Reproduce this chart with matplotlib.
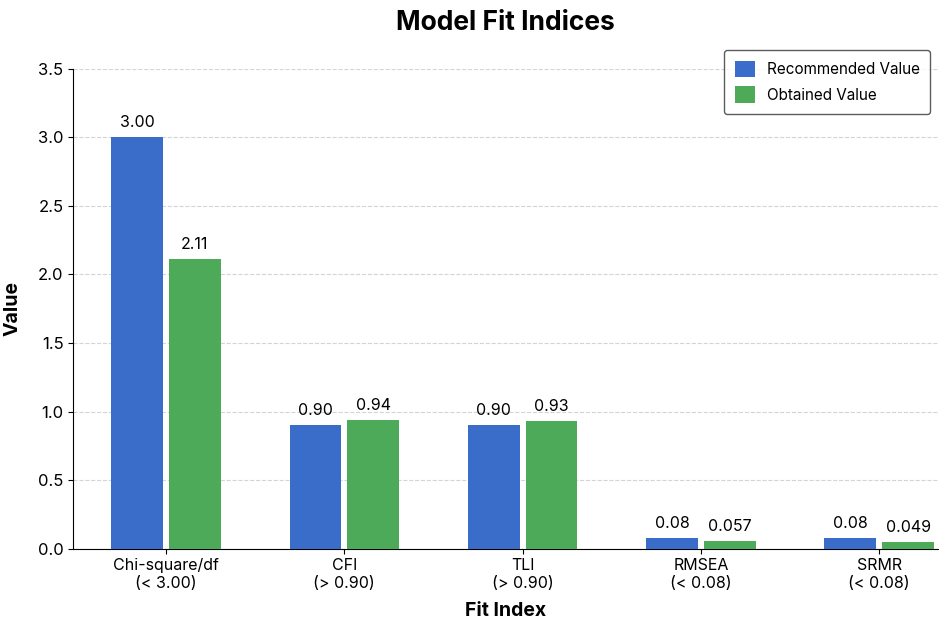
import numpy as np
from matplotlib import pyplot as plt

plt.rcParams['font.family'] = ['Inter', 'DejaVu Sans']

categories = ["Chi-square/df\n(< 3.00)", "CFI\n(> 0.90)", "TLI\n(> 0.90)", "RMSEA\n(< 0.08)", "SRMR\n(< 0.08)"]
recommended = [3.00, 0.90, 0.90, 0.08, 0.08]
obtained = [2.11, 0.94, 0.93, 0.057, 0.049]
rec_labels = ["3.00", "0.90", "0.90", "0.08", "0.08"]
obt_labels = ["2.11", "0.94", "0.93", "0.057", "0.049"]

fig = plt.figure(figsize=(9.39, 6.3), dpi=100)
ax = fig.add_axes([0.078, 0.129, 0.921, 0.762])

x = np.arange(len(categories))
w = 0.29
b1 = ax.bar(x - w / 2 - 0.017, recommended, w, color="#3a6cc9", label="Recommended Value", zorder=3)
b2 = ax.bar(x + w / 2 + 0.017, obtained, w, color="#4caa59", label="Obtained Value", zorder=3)

for bars, labs in [(b1, rec_labels), (b2, obt_labels)]:
    for bar, lab in zip(bars, labs):
        ax.text(bar.get_x() + bar.get_width() / 2, bar.get_height() + 0.05, lab,
                ha="center", va="bottom", fontsize=11.5)

ax.set_xticks(x)
ax.set_xticklabels(categories, fontsize=11.5)
ax.set_xlim(-0.52, 4.33)
ax.set_ylim(0, 3.5)
ax.set_yticks(np.arange(0, 3.51, 0.5))
ax.tick_params(axis="y", labelsize=12)
ax.yaxis.grid(True, linestyle="--", color="#d4d4d4", linewidth=0.8, zorder=0)
ax.spines["top"].set_visible(False)
ax.spines["right"].set_visible(False)

ax.set_title("Model Fit Indices", fontsize=19, fontweight="bold", pad=28)
ax.set_xlabel("Fit Index", fontsize=14, fontweight="bold", labelpad=8)
ax.set_ylabel("Value", fontsize=14, fontweight="bold", labelpad=12)

leg = ax.legend(loc="upper right", fontsize=11, frameon=True, fancybox=True,
                edgecolor="#333333", handlelength=1.3, handleheight=1.3,
                labelspacing=0.6, borderpad=0.7, handletextpad=0.8,
                bbox_to_anchor=(1.0, 1.055))
leg.get_frame().set_linewidth(1.0)

fig.savefig("out.png", dpi=100)
